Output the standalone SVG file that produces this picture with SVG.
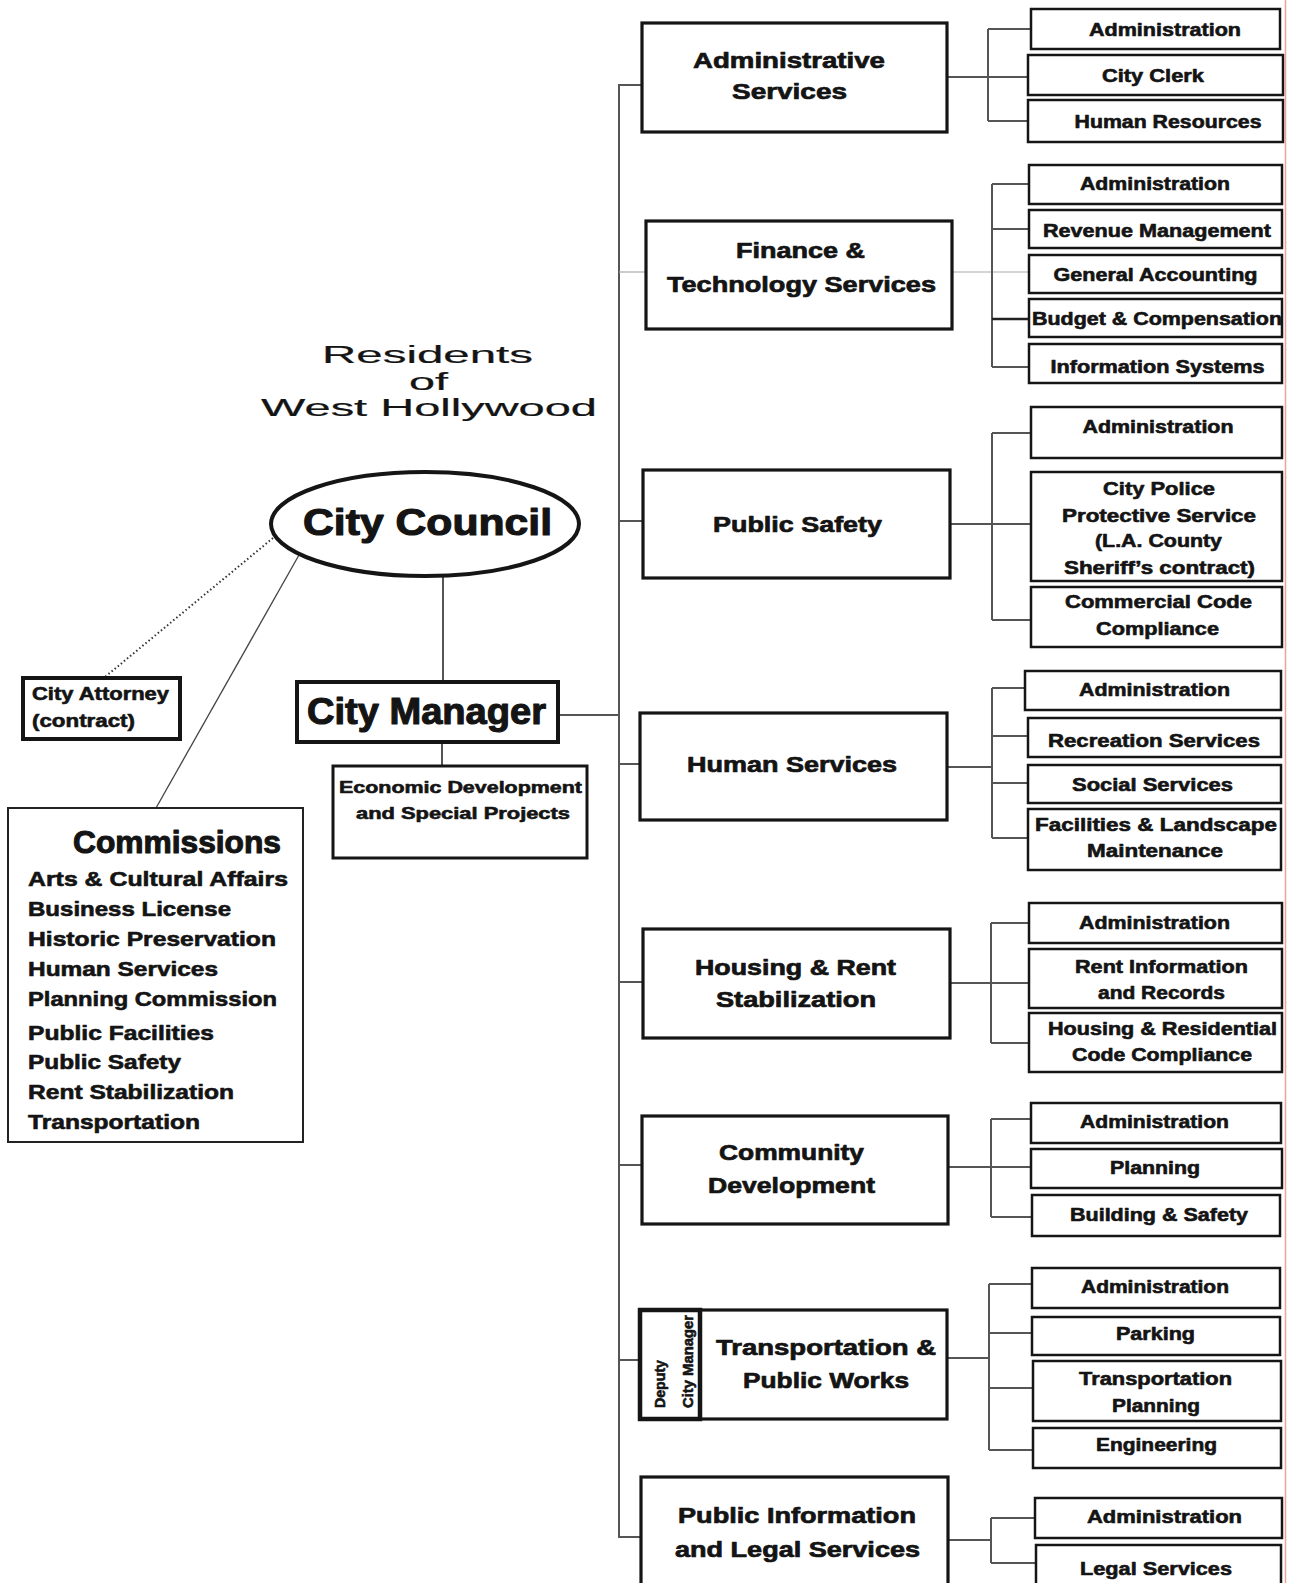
<svg xmlns="http://www.w3.org/2000/svg" width="1295" height="1583" viewBox="0 0 1295 1583">
<style>
.bg{fill:#fff}
.db{fill:#fff;stroke:#151515;stroke-width:3.2}
.sb{fill:#fff;stroke:#151515;stroke-width:2.5}
.c{stroke:#555;stroke-width:2;fill:none}
.cl{stroke:#aaa;stroke-width:1.2;fill:none}
.ck{stroke:#222;stroke-width:2.6;fill:none}
text{font-family:"Liberation Sans",Arial,sans-serif;font-weight:bold;fill:#141414;stroke:#141414;stroke-width:0.6;stroke-linejoin:round}
.s{font-size:18px;text-anchor:middle}
.d{font-size:22px;text-anchor:middle;stroke-width:0.7}
.m{font-size:20px}
.big{stroke-width:1.1}
.r{font-weight:normal;font-size:23px;text-anchor:middle;stroke-width:0.2}
</style>
<rect class="bg" x="0" y="0" width="1295" height="1583"/>
<line x1="1285.5" y1="0" x2="1285.5" y2="1583" stroke="#f2a0a0" stroke-width="1.5"/>

<g id="connectors">
  <line x1="273" y1="538" x2="105" y2="677" stroke="#333" stroke-width="2" stroke-dasharray="1.5,2.5"/>
  <line x1="299" y1="555" x2="156" y2="808" stroke="#444" stroke-width="1.3"/>
  <line class="c" x1="443" y1="577" x2="443" y2="682"/>
  <line class="c" x1="442" y1="742" x2="442" y2="766"/>
  <line class="c" x1="558" y1="715" x2="619" y2="715"/>
  <line class="c" x1="619" y1="84" x2="619" y2="1538"/>
  <line class="c" x1="619" y1="85" x2="642" y2="85"/>
  <line class="cl" x1="619" y1="272" x2="646" y2="272"/>
  <line class="c" x1="619" y1="521" x2="643" y2="521"/>
  <line class="c" x1="619" y1="764" x2="640" y2="764"/>
  <line class="c" x1="619" y1="982" x2="643" y2="982"/>
  <line class="c" x1="619" y1="1165" x2="642" y2="1165"/>
  <line class="c" x1="619" y1="1360" x2="640" y2="1360"/>
  <line class="c" x1="619" y1="1537" x2="641" y2="1537"/>
  <line class="c" x1="947" y1="77" x2="1028" y2="77"/>
  <line class="c" x1="988" y1="29" x2="988" y2="121"/>
  <line class="c" x1="988" y1="29" x2="1031" y2="29"/>
  <line class="c" x1="988" y1="121" x2="1028" y2="121"/>
  <line class="cl" x1="952" y1="272" x2="1029" y2="272"/>
  <line class="c" x1="992" y1="184" x2="992" y2="367"/>
  <line class="c" x1="992" y1="184" x2="1029" y2="184"/>
  <line class="c" x1="992" y1="229" x2="1029" y2="229"/>
  <line class="ck" x1="992" y1="319" x2="1029" y2="319"/>
  <line class="c" x1="992" y1="367" x2="1029" y2="367"/>
  <line class="c" x1="950" y1="524" x2="1031" y2="524"/>
  <line class="c" x1="992" y1="433" x2="992" y2="620"/>
  <line class="c" x1="992" y1="433" x2="1031" y2="433"/>
  <line class="c" x1="992" y1="620" x2="1031" y2="620"/>
  <line class="c" x1="947" y1="767" x2="992" y2="767"/>
  <line class="c" x1="992" y1="688" x2="992" y2="838"/>
  <line class="c" x1="992" y1="688" x2="1025" y2="688"/>
  <line class="c" x1="992" y1="736" x2="1028" y2="736"/>
  <line class="c" x1="992" y1="783" x2="1028" y2="783"/>
  <line class="c" x1="992" y1="838" x2="1028" y2="838"/>
  <line class="c" x1="950" y1="983" x2="1029" y2="983"/>
  <line class="c" x1="991" y1="923" x2="991" y2="1043"/>
  <line class="c" x1="991" y1="923" x2="1029" y2="923"/>
  <line class="c" x1="991" y1="1043" x2="1029" y2="1043"/>
  <line class="c" x1="948" y1="1167" x2="1031" y2="1167"/>
  <line class="c" x1="991" y1="1119" x2="991" y2="1217"/>
  <line class="c" x1="991" y1="1119" x2="1031" y2="1119"/>
  <line class="c" x1="991" y1="1217" x2="1032" y2="1217"/>
  <line class="c" x1="947" y1="1358" x2="989" y2="1358"/>
  <line class="c" x1="989" y1="1284" x2="989" y2="1450"/>
  <line class="c" x1="989" y1="1284" x2="1032" y2="1284"/>
  <line class="c" x1="989" y1="1333" x2="1032" y2="1333"/>
  <line class="c" x1="989" y1="1388" x2="1033" y2="1388"/>
  <line class="c" x1="989" y1="1450" x2="1033" y2="1450"/>
  <line class="c" x1="948" y1="1540" x2="991" y2="1540"/>
  <line class="c" x1="991" y1="1518" x2="991" y2="1563"/>
  <line class="c" x1="991" y1="1518" x2="1035" y2="1518"/>
  <line class="c" x1="991" y1="1563" x2="1036" y2="1563"/>
</g>

<g id="residents">
  <text class="r" x="427.5" y="363" textLength="211" lengthAdjust="spacingAndGlyphs">Residents</text>
  <text class="r" x="428.5" y="390" textLength="39" lengthAdjust="spacingAndGlyphs">of</text>
  <text class="r" x="429" y="416" textLength="336" lengthAdjust="spacingAndGlyphs">West Hollywood</text>
</g>

<g id="city-council">
  <ellipse cx="425" cy="524" rx="154" ry="52" fill="#fff" stroke="#151515" stroke-width="4"/>
  <text class="big" x="427.5" y="535" font-size="36" text-anchor="middle" textLength="249" lengthAdjust="spacingAndGlyphs">City Council</text>
</g>

<g id="city-attorney">
  <rect x="23" y="678" width="157" height="61" fill="#fff" stroke="#151515" stroke-width="4"/>
  <text x="32" y="700" font-size="18" textLength="137" lengthAdjust="spacingAndGlyphs">City Attorney</text>
  <text x="32" y="727" font-size="18" textLength="103" lengthAdjust="spacingAndGlyphs">(contract)</text>
</g>

<g id="city-manager">
  <rect x="297" y="682" width="261" height="60" fill="#fff" stroke="#151515" stroke-width="4"/>
  <text class="big" x="426.5" y="724" font-size="36" text-anchor="middle" textLength="239" lengthAdjust="spacingAndGlyphs">City Manager</text>
</g>

<g id="economic-development">
  <rect x="333" y="766" width="254" height="92" fill="#fff" stroke="#151515" stroke-width="3"/>
  <text x="460.5" y="793" font-size="16.5" text-anchor="middle" textLength="243" lengthAdjust="spacingAndGlyphs">Economic Development</text>
  <text x="463" y="819" font-size="16.5" text-anchor="middle" textLength="214" lengthAdjust="spacingAndGlyphs">and Special Projects</text>
</g>

<g id="commissions">
  <rect x="8" y="808" width="295" height="334" fill="#fff" stroke="#222" stroke-width="2"/>
  <text class="big" x="73" y="853" font-size="32" textLength="208" lengthAdjust="spacingAndGlyphs">Commissions</text>
  <text class="m" x="28" y="886" textLength="260" lengthAdjust="spacingAndGlyphs">Arts &amp; Cultural Affairs</text>
  <text class="m" x="28" y="916" textLength="203" lengthAdjust="spacingAndGlyphs">Business License</text>
  <text class="m" x="28" y="946" textLength="248" lengthAdjust="spacingAndGlyphs">Historic Preservation</text>
  <text class="m" x="28" y="976" textLength="190" lengthAdjust="spacingAndGlyphs">Human Services</text>
  <text class="m" x="28" y="1006" textLength="249" lengthAdjust="spacingAndGlyphs">Planning Commission</text>
  <text class="m" x="28" y="1040" textLength="186" lengthAdjust="spacingAndGlyphs">Public Facilities</text>
  <text class="m" x="28" y="1069" textLength="153" lengthAdjust="spacingAndGlyphs">Public Safety</text>
  <text class="m" x="28" y="1099" textLength="206" lengthAdjust="spacingAndGlyphs">Rent Stabilization</text>
  <text class="m" x="28" y="1129" textLength="172" lengthAdjust="spacingAndGlyphs">Transportation</text>
</g>

<g id="administrative-services">
  <rect class="db" x="642" y="23" width="305" height="109"/>
  <text class="d" x="789" y="68" textLength="192" lengthAdjust="spacingAndGlyphs">Administrative</text>
  <text class="d" x="789.5" y="99" textLength="115" lengthAdjust="spacingAndGlyphs">Services</text>
</g>
<g id="as-administration"><rect class="sb" x="1031" y="9" width="249" height="40"/><text class="s" x="1165" y="36" textLength="152" lengthAdjust="spacingAndGlyphs">Administration</text></g>
<g id="as-city-clerk"><rect class="sb" x="1028" y="55" width="255" height="40"/><text class="s" x="1153" y="82" textLength="102" lengthAdjust="spacingAndGlyphs">City Clerk</text></g>
<g id="as-human-resources"><rect class="sb" x="1028" y="100" width="255" height="42"/><text class="s" x="1168" y="128" textLength="187" lengthAdjust="spacingAndGlyphs">Human Resources</text></g>

<g id="finance">
  <rect class="db" x="646" y="221" width="306" height="108"/>
  <text class="d" x="800.5" y="258" textLength="129" lengthAdjust="spacingAndGlyphs">Finance &amp;</text>
  <text class="d" x="801.5" y="292" textLength="269" lengthAdjust="spacingAndGlyphs">Technology Services</text>
</g>
<g id="fin-administration"><rect class="sb" x="1029" y="165" width="253" height="39"/><text class="s" x="1155" y="190" textLength="150" lengthAdjust="spacingAndGlyphs">Administration</text></g>
<g id="fin-revenue"><rect class="sb" x="1029" y="210" width="253" height="38"/><text class="s" x="1157" y="237" textLength="228" lengthAdjust="spacingAndGlyphs">Revenue Management</text></g>
<g id="fin-accounting"><rect class="sb" x="1029" y="255" width="253" height="38"/><text class="s" x="1155.5" y="281" textLength="204" lengthAdjust="spacingAndGlyphs">General Accounting</text></g>
<g id="fin-budget"><rect class="sb" x="1029" y="299" width="253" height="38"/><text class="s" x="1157" y="325" textLength="250" lengthAdjust="spacingAndGlyphs">Budget &amp; Compensation</text></g>
<g id="fin-is"><rect class="sb" x="1029" y="344" width="253" height="39"/><text class="s" x="1157.5" y="373" textLength="214" lengthAdjust="spacingAndGlyphs">Information Systems</text></g>

<g id="public-safety">
  <rect class="db" x="643" y="470" width="307" height="108"/>
  <text class="d" x="797.5" y="532" textLength="169" lengthAdjust="spacingAndGlyphs">Public Safety</text>
</g>
<g id="ps-administration"><rect class="sb" x="1031" y="407" width="251" height="51"/><text class="s" x="1158" y="433" textLength="151" lengthAdjust="spacingAndGlyphs">Administration</text></g>
<g id="ps-police"><rect class="sb" x="1031" y="472" width="251" height="109"/>
  <text class="s" x="1159" y="495" textLength="112" lengthAdjust="spacingAndGlyphs">City Police</text>
  <text class="s" x="1159" y="522" textLength="194" lengthAdjust="spacingAndGlyphs">Protective Service</text>
  <text class="s" x="1158.5" y="547" textLength="127" lengthAdjust="spacingAndGlyphs">(L.A. County</text>
  <text class="s" x="1159.5" y="574" textLength="191" lengthAdjust="spacingAndGlyphs">Sheriff’s contract)</text>
</g>
<g id="ps-commercial"><rect class="sb" x="1031" y="587" width="251" height="60"/>
  <text class="s" x="1158.5" y="608" textLength="187" lengthAdjust="spacingAndGlyphs">Commercial Code</text>
  <text class="s" x="1157.5" y="635" textLength="123" lengthAdjust="spacingAndGlyphs">Compliance</text>
</g>

<g id="human-services">
  <rect class="db" x="640" y="713" width="307" height="107"/>
  <text class="d" x="792" y="772" textLength="210" lengthAdjust="spacingAndGlyphs">Human Services</text>
</g>
<g id="hs-administration"><rect class="sb" x="1025" y="671" width="256" height="39"/><text class="s" x="1154.5" y="696" textLength="151" lengthAdjust="spacingAndGlyphs">Administration</text></g>
<g id="hs-recreation"><rect class="sb" x="1028" y="718" width="253" height="39"/><text class="s" x="1154" y="747" textLength="212" lengthAdjust="spacingAndGlyphs">Recreation Services</text></g>
<g id="hs-social"><rect class="sb" x="1028" y="765" width="253" height="38"/><text class="s" x="1152.5" y="791" textLength="161" lengthAdjust="spacingAndGlyphs">Social Services</text></g>
<g id="hs-facilities"><rect class="sb" x="1028" y="809" width="253" height="61"/>
  <text class="s" x="1156" y="831" textLength="242" lengthAdjust="spacingAndGlyphs">Facilities &amp; Landscape</text>
  <text class="s" x="1155" y="857" textLength="136" lengthAdjust="spacingAndGlyphs">Maintenance</text>
</g>

<g id="housing">
  <rect class="db" x="643" y="929" width="307" height="109"/>
  <text class="d" x="795.5" y="975" textLength="201" lengthAdjust="spacingAndGlyphs">Housing &amp; Rent</text>
  <text class="d" x="796" y="1007" textLength="160" lengthAdjust="spacingAndGlyphs">Stabilization</text>
</g>
<g id="ho-administration"><rect class="sb" x="1029" y="903" width="253" height="40"/><text class="s" x="1154.5" y="929" textLength="151" lengthAdjust="spacingAndGlyphs">Administration</text></g>
<g id="ho-rent-info"><rect class="sb" x="1029" y="949" width="253" height="59"/>
  <text class="s" x="1161.5" y="973" textLength="173" lengthAdjust="spacingAndGlyphs">Rent Information</text>
  <text class="s" x="1161.5" y="999" textLength="127" lengthAdjust="spacingAndGlyphs">and Records</text>
</g>
<g id="ho-code"><rect class="sb" x="1029" y="1013" width="253" height="59"/>
  <text class="s" x="1162.5" y="1035" textLength="229" lengthAdjust="spacingAndGlyphs">Housing &amp; Residential</text>
  <text class="s" x="1162" y="1061" textLength="180" lengthAdjust="spacingAndGlyphs">Code Compliance</text>
</g>

<g id="community-development">
  <rect class="db" x="642" y="1116" width="306" height="108"/>
  <text class="d" x="791.5" y="1160" textLength="145" lengthAdjust="spacingAndGlyphs">Community</text>
  <text class="d" x="791.5" y="1193" textLength="167" lengthAdjust="spacingAndGlyphs">Development</text>
</g>
<g id="cd-administration"><rect class="sb" x="1031" y="1103" width="250" height="40"/><text class="s" x="1154.5" y="1128" textLength="149" lengthAdjust="spacingAndGlyphs">Administration</text></g>
<g id="cd-planning"><rect class="sb" x="1031" y="1149" width="251" height="39"/><text class="s" x="1155" y="1174" textLength="90" lengthAdjust="spacingAndGlyphs">Planning</text></g>
<g id="cd-building"><rect class="sb" x="1032" y="1195" width="248" height="41"/><text class="s" x="1159" y="1221" textLength="178" lengthAdjust="spacingAndGlyphs">Building &amp; Safety</text></g>

<g id="transportation">
  <rect class="db" x="640" y="1310" width="307" height="109"/>
  <rect x="640" y="1310" width="60" height="109" fill="#fff" stroke="#151515" stroke-width="4.5"/>
  <text x="665" y="1408" font-size="15" transform="rotate(-90 665 1408)" textLength="48" lengthAdjust="spacingAndGlyphs">Deputy</text>
  <text x="693" y="1408" font-size="15" transform="rotate(-90 693 1408)" textLength="93" lengthAdjust="spacingAndGlyphs">City Manager</text>
  <text class="d" x="826" y="1355" textLength="220" lengthAdjust="spacingAndGlyphs">Transportation &amp;</text>
  <text class="d" x="826" y="1388" textLength="166" lengthAdjust="spacingAndGlyphs">Public Works</text>
</g>
<g id="tr-administration"><rect class="sb" x="1032" y="1268" width="248" height="40"/><text class="s" x="1155" y="1293" textLength="148" lengthAdjust="spacingAndGlyphs">Administration</text></g>
<g id="tr-parking"><rect class="sb" x="1032" y="1317" width="248" height="38"/><text class="s" x="1155.5" y="1340" textLength="79" lengthAdjust="spacingAndGlyphs">Parking</text></g>
<g id="tr-planning"><rect class="sb" x="1033" y="1361" width="248" height="60"/>
  <text class="s" x="1155.5" y="1385" textLength="153" lengthAdjust="spacingAndGlyphs">Transportation</text>
  <text class="s" x="1156" y="1412" textLength="88" lengthAdjust="spacingAndGlyphs">Planning</text>
</g>
<g id="tr-engineering"><rect class="sb" x="1033" y="1428" width="248" height="40"/><text class="s" x="1156.5" y="1451" textLength="121" lengthAdjust="spacingAndGlyphs">Engineering</text></g>

<g id="public-information">
  <rect class="db" x="641" y="1477" width="307" height="120"/>
  <text class="d" x="797" y="1523" textLength="238" lengthAdjust="spacingAndGlyphs">Public Information</text>
  <text class="d" x="797.5" y="1557" textLength="245" lengthAdjust="spacingAndGlyphs">and Legal Services</text>
</g>
<g id="pi-administration"><rect class="sb" x="1035" y="1498" width="247" height="40"/><text class="s" x="1164.5" y="1523" textLength="155" lengthAdjust="spacingAndGlyphs">Administration</text></g>
<g id="pi-legal"><rect class="sb" x="1036" y="1545" width="245" height="50"/><text class="s" x="1156" y="1575" textLength="152" lengthAdjust="spacingAndGlyphs">Legal Services</text></g>
</svg>
